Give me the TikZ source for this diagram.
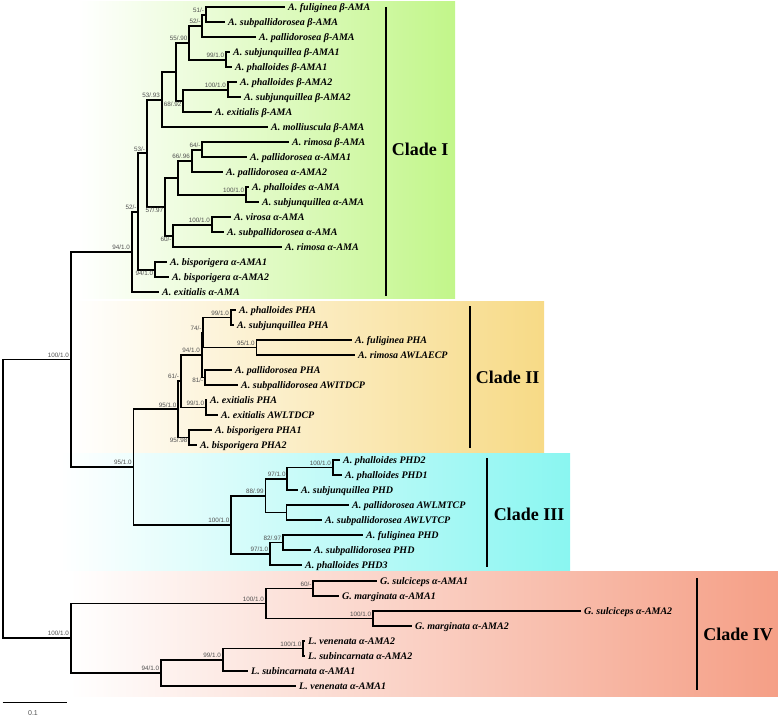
\documentclass[tikz,border=0pt]{standalone}
\usepackage{fontspec}
\setmainfont{Liberation Serif}
\setsansfont{Liberation Sans}
\usepackage{xcolor}
\usepackage{tikz}
\usetikzlibrary{positioning}
\definecolor{cladeone}{HTML}{C2F68A}
\definecolor{cladetwo}{HTML}{F7DA86}
\definecolor{cladethree}{HTML}{8AF6F1}
\definecolor{cladefour}{HTML}{F59F86}
\definecolor{supgray}{HTML}{505050}

\tikzset{
    branch/.style={line width=1.9pt},
    tip/.style={anchor=west, inner xsep=3pt, inner ysep=0pt,
                text height=6.6pt, text depth=0pt,
                font=\fontsize{10}{12}\selectfont\bfseries\itshape},
    supa/.style={anchor=south east, inner sep=0.6pt, xshift=-1pt, yshift=1.4pt,
                 text=supgray, font=\sffamily\fontsize{6.3}{7}\selectfont},
    supb/.style={supa, anchor=north east, yshift=-1.4pt},
    cladebar/.style={line width=2.2pt},
    cladename/.style={font=\fontsize{18}{20}\selectfont\bfseries}
}

\begin{document}
\begin{tikzpicture}[x=1pt, y=-1pt]
    \useasboundingbox (0,0) rectangle (778,717);

    % coloured clade panels
    \shade[left color=white, right color=cladeone] (78,2) rectangle (455,298);
    \shade[left color=white, right color=cladetwo] (72,301) rectangle (544,452);
    \shade[left color=white, right color=cladethree] (60,453) rectangle (570,570);
    \shade[left color=white, right color=cladefour] (70,571) rectangle (778,696);

    % clade I tips
    \node[tip] (c1t1) at (285,7.3) {A. fuliginea β-AMA};
    \node[tip] (c1t2) at (225,22.3) {A. subpallidorosea β-AMA};
    \node[tip] (c1t3) at (256,37.3) {A. pallidorosea β-AMA};
    \node[tip] (c1t4) at (230,52.3) {A. subjunquillea β-AMA1};
    \node[tip] (c1t5) at (232,67.3) {A. phalloides β-AMA1};
    \node[tip] (c1t6) at (237,82.3) {A. phalloides β-AMA2};
    \node[tip] (c1t7) at (241,97.3) {A. subjunquillea β-AMA2};
    \node[tip] (c1t8) at (212,112.3) {A. exitialis β-AMA};
    \node[tip] (c1t9) at (268,127.3) {A. molliuscula β-AMA};
    \node[tip] (c1t10) at (289,142.3) {A. rimosa β-AMA};
    \node[tip] (c1t11) at (247,157.3) {A. pallidorosea α-AMA1};
    \node[tip] (c1t12) at (223,172.3) {A. pallidorosea α-AMA2};
    \node[tip] (c1t13) at (249,187.3) {A. phalloides α-AMA};
    \node[tip] (c1t14) at (259,202.3) {A. subjunquillea α-AMA};
    \node[tip] (c1t15) at (231,217.3) {A. virosa α-AMA};
    \node[tip] (c1t16) at (224,232.3) {A. subpallidorosea α-AMA};
    \node[tip] (c1t17) at (282,247.3) {A. rimosa α-AMA};
    \node[tip] (c1t18) at (167,262.3) {A. bisporigera α-AMA1};
    \node[tip] (c1t19) at (169,277.3) {A. bisporigera α-AMA2};
    \node[tip] (c1t20) at (159,292.3) {A. exitialis α-AMA};

    % clade II tips
    \node[tip] (c2t1) at (236,310) {A. phalloides PHA};
    \node[tip] (c2t2) at (234,325) {A. subjunquillea PHA};
    \node[tip] (c2t3) at (352,340) {A. fuliginea PHA};
    \node[tip] (c2t4) at (355,355) {A. rimosa AWLAECP};
    \node[tip] (c2t5) at (232,370) {A. pallidorosea PHA};
    \node[tip] (c2t6) at (238,385) {A. subpallidorosea AWITDCP};
    \node[tip] (c2t7) at (207,400) {A. exitialis PHA};
    \node[tip] (c2t8) at (218,415) {A. exitialis AWLTDCP};
    \node[tip] (c2t9) at (212,430) {A. bisporigera PHA1};
    \node[tip] (c2t10) at (197,445) {A. bisporigera PHA2};

    % clade III tips
    \node[tip] (c3t1) at (340,460) {A. phalloides PHD2};
    \node[tip] (c3t2) at (342,475) {A. phalloides PHD1};
    \node[tip] (c3t3) at (298,490) {A. subjunquillea PHD};
    \node[tip] (c3t4) at (349,505) {A. pallidorosea AWLMTCP};
    \node[tip] (c3t5) at (322,520) {A. subpallidorosea AWLVTCP};
    \node[tip] (c3t6) at (363,535) {A. fuliginea PHD};
    \node[tip] (c3t7) at (311,550) {A. subpallidorosea PHD};
    \node[tip] (c3t8) at (302,565) {A. phalloides PHD3};

    % clade IV tips
    \node[tip] (c4t1) at (377,581) {G. sulciceps α-AMA1};
    \node[tip] (c4t2) at (339,596) {G. marginata α-AMA1};
    \node[tip] (c4t3) at (581,611) {G. sulciceps α-AMA2};
    \node[tip] (c4t4) at (412,626) {G. marginata α-AMA2};
    \node[tip] (c4t5) at (305,641) {L. venenata α-AMA2};
    \node[tip] (c4t6) at (305,656) {L. subincarnata α-AMA2};
    \node[tip] (c4t7) at (248,671) {L. subincarnata α-AMA1};
    \node[tip] (c4t8) at (296,686) {L. venenata α-AMA1};

    % internal nodes
    \coordinate (nE) at (205.7,14.8);
    \coordinate (nC) at (202.3,26.05);
    \coordinate (nD) at (226,59.8);
    \coordinate (nA) at (189.3,42.93);
    \coordinate (nF) at (227.7,89.8);
    \coordinate (nB) at (183.3,101.05);
    \coordinate (nAB) at (175.7,71.99);
    \coordinate (nW) at (161.7,99.64);
    \coordinate (nG) at (202.3,149.8);
    \coordinate (nH) at (191.7,161.05);
    \coordinate (nI) at (246,194.8);
    \coordinate (nVa) at (178.3,177.93);
    \coordinate (nJ) at (211.7,224.8);
    \coordinate (nVb) at (173.3,236.05);
    \coordinate (nV) at (165,206.99);
    \coordinate (nZ) at (146.7,153.32);
    \coordinate (nBis) at (155,269.8);
    \coordinate (nY) at (138.3,211.56);
    \coordinate (nX) at (131.7,251.93);
    \coordinate (nN1) at (230.7,317.5);
    \coordinate (nN2) at (256.5,347.5);
    \coordinate (nN3) at (203.3,332.5);
    \coordinate (nN4) at (205,377.5);
    \coordinate (nN5) at (201.7,355);
    \coordinate (nN6) at (206,407.5);
    \coordinate (nP1) at (180.7,381.25);
    \coordinate (nP2) at (189.3,437.5);
    \coordinate (nP) at (178.3,409.38);
    \coordinate (nM1) at (332.7,467.5);
    \coordinate (nM2) at (287.3,478.75);
    \coordinate (nM3) at (286.5,512.5);
    \coordinate (nM4) at (265.5,495.63);
    \coordinate (nM5) at (283,542.5);
    \coordinate (nM6) at (270,553.75);
    \coordinate (nQ) at (231.3,524.69);
    \coordinate (nK) at (133.5,467.03);
    \coordinate (nR1) at (70.7,359.48);
    \coordinate (nO1) at (313.3,588.5);
    \coordinate (nO2) at (373,618.5);
    \coordinate (nS1) at (265.7,603.5);
    \coordinate (nL1) at (303.3,648.5);
    \coordinate (nL2) at (222.7,659.75);
    \coordinate (nL3) at (161,672.88);
    \coordinate (nS) at (70.7,638.19);
    \coordinate (nRoot) at (2.7,498.83);

    % branches
    \foreach \p/\c in {nE/c1t1.west, nE/c1t2.west, nC/nE, nC/c1t3.west,
                       nD/c1t4.west, nD/c1t5.west, nA/nC, nA/nD,
                       nF/c1t6.west, nF/c1t7.west, nB/nF, nB/c1t8.west,
                       nAB/nA, nAB/nB, nW/nAB, nW/c1t9.west,
                       nG/c1t10.west, nG/c1t11.west, nH/nG, nH/c1t12.west,
                       nI/c1t13.west, nI/c1t14.west, nVa/nH, nVa/nI,
                       nJ/c1t15.west, nJ/c1t16.west, nVb/nJ, nVb/c1t17.west,
                       nV/nVa, nV/nVb, nZ/nW, nZ/nV,
                       nBis/c1t18.west, nBis/c1t19.west, nY/nZ, nY/nBis,
                       nX/nY, nX/c1t20.west, nR1/nX, nR1/nK,
                       nN1/c2t1.west, nN1/c2t2.west, nN2/c2t3.west, nN2/c2t4.west,
                       nN3/nN1, nN3/nN2, nN4/c2t5.west, nN4/c2t6.west,
                       nN5/nN3, nN5/nN4, nN6/c2t7.west, nN6/c2t8.west,
                       nP1/nN5, nP1/nN6, nP2/c2t9.west, nP2/c2t10.west,
                       nP/nP1, nP/nP2, nK/nP, nK/nQ,
                       nM1/c3t1.west, nM1/c3t2.west, nM2/nM1, nM2/c3t3.west,
                       nM3/c3t4.west, nM3/c3t5.west, nM4/nM2, nM4/nM3,
                       nM5/c3t6.west, nM5/c3t7.west, nM6/nM5, nM6/c3t8.west,
                       nQ/nM4, nQ/nM6,
                       nO1/c4t1.west, nO1/c4t2.west, nO2/c4t3.west, nO2/c4t4.west,
                       nS1/nO1, nS1/nO2, nL1/c4t5.west, nL1/c4t6.west,
                       nL2/nL1, nL2/c4t7.west, nL3/nL2, nL3/c4t8.west,
                       nS/nS1, nS/nL3, nRoot/nR1, nRoot/nS}
        \draw[branch] (\p) |- (\c);

    % support values
    \node[supa] (sE) at (nE) {51/-};
    \node[supa] (sC) at (nC) {52/-};
    \node[supa] (sD) at (nD) {99/1.0};
    \node[supa] (sA) at (nA) {55/.90};
    \node[supa] (sF) at (nF) {100/1.0};
    \node[supb] (sB) at (nB) {68/.92};
    \node[supa] (sW) at (nW) {53/.93};
    \node[supa] (sG) at (nG) {64/-};
    \node[supa] (sH) at (nH) {66/.96};
    \node[supa] (sI) at (nI) {100/1.0};
    \node[supa] (sJ) at (nJ) {100/1.0};
    \node[supb] (sVb) at (nVb) {60/-};
    \node[supb] (sV) at (nV) {57/.97};
    \node[supa] (sZ) at (nZ) {53/-};
    \node[supb] (sBis) at (nBis) {94/1.0};
    \node[supa] (sY) at (nY) {52/-};
    \node[supa] (sX) at (nX) {94/1.0};
    \node[supa] (sR1) at (nR1) {100/1.0};
    \node[supa] (sN1) at (nN1) {99/1.0};
    \node[supa] (sN2) at (nN2) {95/1.0};
    \node[supa] (sN3) at (nN3) {74/-};
    \node[supb] (sN4) at (nN4) {81/-};
    \node[supa] (sN5) at (nN5) {94/1.0};
    \node[supa] (sN6) at (nN6) {99/1.0};
    \node[supa] (sP1) at (nP1) {61/-};
    \node[supb] (sP2) at (nP2) {95/.98};
    \node[supa] (sP) at (nP) {95/1.0};
    \node[supa] (sK) at (nK) {95/1.0};
    \node[supa] (sM1) at (nM1) {100/1.0};
    \node[supa] (sM2) at (nM2) {97/1.0};
    \node[supa] (sM4) at (nM4) {88/.99};
    \node[supa] (sM5) at (nM5) {82/.97};
    \node[supa] (sM6) at (nM6) {97/1.0};
    \node[supa] (sQ) at (nQ) {100/1.0};
    \node[supa] (sO1) at (nO1) {60/-};
    \node[supa] (sO2) at (nO2) {100/1.0};
    \node[supa] (sS1) at (nS1) {100/1.0};
    \node[supa] (sL1) at (nL1) {100/1.0};
    \node[supa] (sL2) at (nL2) {99/1.0};
    \node[supa] (sL3) at (nL3) {94/1.0};
    \node[supa] (sS) at (nS) {100/1.0};

    % clade bars and names
    \draw[cladebar] (385.7,7) -- (385.7,296);
    \node[cladename] (cI) at (420,149.5) {Clade I};
    \draw[cladebar] (470,306) -- (470,447.5);
    \node[cladename] (cII) at (507.7,377.5) {Clade II};
    \draw[cladebar] (486.7,458) -- (486.7,566.5);
    \node[cladename] (cIII) at (529,514) {Clade III};
    \draw[cladebar] (697,578) -- (697,690);
    \node[cladename] (cIV) at (738,634) {Clade IV};

    % scale bar
    \coordinate (sbl) at (2.7,702.3);
    \coordinate (sbr) at (67.3,702.3);
    \draw[line width=1.3pt] (sbl) -- (sbr);
    \node[font=\sffamily\fontsize{7}{8}\selectfont, text=supgray] (sblab) at (33,713.5) {0.1};
\end{tikzpicture}
\end{document}
